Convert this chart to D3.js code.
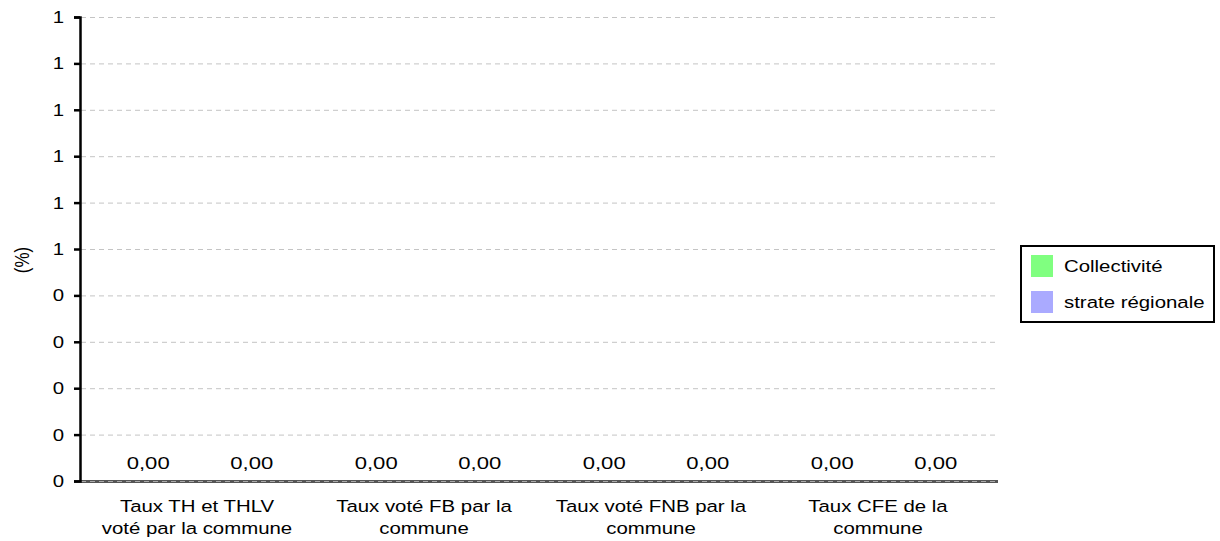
<!DOCTYPE html>
<html>
<head>
<meta charset="UTF-8">
<title>Taux</title>
<script src="https://cdn.jsdelivr.net/npm/d3@7"></script>
<style>
  body { margin: 0; background: #fff; }
  text { font-family: "Liberation Sans", Arial, sans-serif; fill: #000; }
</style>
</head>
<body>
<script>
const categories = [
  ['Taux TH et THLV', 'voté par la commune'],
  ['Taux voté FB par la', 'commune'],
  ['Taux voté FNB par la', 'commune'],
  ['Taux CFE de la', 'commune']
];
const seriesNames = ['Collectivité', 'strate régionale'];
const collectivite = [0, 0, 0, 0];
const strateRegionale = [0, 0, 0, 0];
const yTicks = [0, 0.1, 0.2, 0.3, 0.4, 0.5, 0.6, 0.7, 0.8, 0.9, 1];
const colors = ['#80ff80', '#aaaaff'];

const width = 1220, height = 541;
const fs = 17, sx = 1.2; // the chart text is a bit stretched horizontally
const svg = d3.select('body').append('svg')
  .attr('width', width).attr('height', height);

const axisX = 80, plotTop = 17, plotBottom = 481, plotRight = 998;
const x = d3.scaleBand().domain(d3.range(categories.length)).range([86, plotRight]);
const xs = d3.scaleBand().domain(d3.range(seriesNames.length)).range([0, x.bandwidth()])
  .paddingInner(0.1).paddingOuter(0.15);
const y = d3.scaleLinear().domain([0, 1]).range([plotBottom, plotTop]);

function label(g, tx, ty, str, anchor, k) {
  return g.append('text')
    .attr('transform', `translate(${tx},${ty}) scale(${k || sx},1)`)
    .attr('text-anchor', anchor || 'middle')
    .attr('font-size', fs)
    .text(str);
}

// grid
svg.append('g').selectAll('line').data(yTicks.slice(1)).join('line')
  .attr('x1', axisX + 1).attr('x2', plotRight)
  .attr('y1', d => y(d) + 0.5).attr('y2', d => y(d) + 0.5)
  .attr('stroke', '#c4c4c4').attr('stroke-dasharray', '5,4');

// bottom axis line
svg.append('line').attr('x1', axisX).attr('x2', plotRight)
  .attr('y1', plotBottom + 0.5).attr('y2', plotBottom + 0.5)
  .attr('stroke', '#555').attr('stroke-width', 3);
svg.append('line').attr('x1', axisX + 1).attr('x2', plotRight)
  .attr('y1', plotBottom + 0.5).attr('y2', plotBottom + 0.5)
  .attr('stroke', '#aaa').attr('stroke-width', 1).attr('stroke-dasharray', '5,4');

// y axis
const yAxis = svg.append('g').attr('transform', `translate(${axisX},0)`)
  .call(d3.axisLeft(y).tickValues(yTicks).tickFormat('').tickSize(6).tickSizeOuter(6));
yAxis.select('.domain').attr('stroke', '#000').attr('stroke-width', 2.5);
yAxis.selectAll('.tick line').attr('stroke', '#000').attr('stroke-width', 2.5);
const yl = svg.append('g');
yTicks.forEach(t => label(yl, 64, y(t) + 6, Math.round(t), 'end'));

svg.append('text')
  .attr('transform', 'translate(29,260) scale(1.2,1) rotate(-90)')
  .attr('text-anchor', 'middle').attr('font-size', fs).text('(%)');

// bars + value labels
const series = [collectivite, strateRegionale];
series.forEach((vals, s) => {
  const g = svg.append('g');
  g.selectAll('rect').data(vals).join('rect')
    .attr('x', (d, i) => x(i) + xs(s))
    .attr('width', xs.bandwidth())
    .attr('y', d => y(d))
    .attr('height', d => plotBottom - y(d))
    .attr('fill', colors[s]);
  vals.forEach((d, i) => {
    label(g, x(i) + xs(s) + xs.bandwidth() / 2, y(d) - 12, d.toFixed(2).replace('.', ','), 'middle', 1.3);
  });
});

// category labels
const cg = svg.append('g');
categories.forEach((lines, i) => {
  lines.forEach((ln, j) => label(cg, x(i) + x.bandwidth() / 2 - 3 - i, 512 + j * 22, ln));
});

// legend
const lg = svg.append('g');
lg.append('rect').attr('x', 1021).attr('y', 246).attr('width', 193).attr('height', 76)
  .attr('fill', '#fff').attr('stroke', '#000').attr('stroke-width', 2);
seriesNames.forEach((n, i) => {
  lg.append('rect').attr('x', 1031).attr('y', 255 + i * 36).attr('width', 22).attr('height', 22)
    .attr('fill', colors[i]);
  label(lg, 1064, 272 + i * 36, n, 'start');
});
</script>
</body>
</html>
